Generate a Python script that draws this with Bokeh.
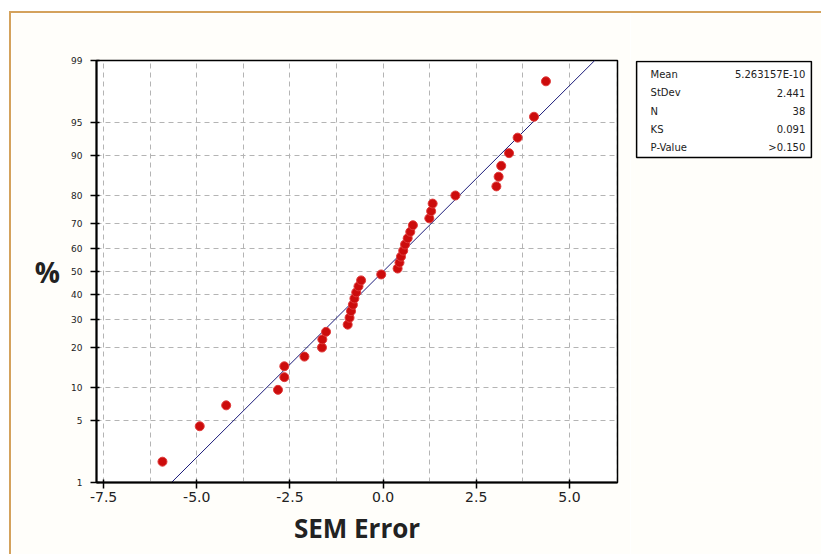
from statistics import NormalDist
from bokeh.plotting import figure
from bokeh.layouts import row
from bokeh.models import FixedTicker, ColumnDataSource, Range1d
from bokeh.core.properties import value
from bokeh.embed import file_html
from bokeh.resources import INLINE

# ---- data ----
residuals = [-5.92, -4.92, -4.21, -2.82, -2.65, -2.65, -2.11, -1.64, -1.63, -1.53,
             -0.95, -0.90, -0.86, -0.81, -0.77, -0.72, -0.66, -0.59, -0.05,
             0.39, 0.44, 0.48, 0.54, 0.59, 0.66, 0.73, 0.80,
             1.24, 1.29, 1.33, 1.94, 3.04, 3.10, 3.17, 3.38, 3.61, 4.05, 4.37]
percent = [1.8, 4.4, 7.0, 9.6, 12.2, 14.8, 17.4, 20.1, 22.7, 25.3,
           27.9, 30.5, 33.1, 35.7, 38.3, 40.9, 43.5, 46.1, 48.7,
           51.3, 53.9, 56.5, 59.1, 61.7, 64.3, 66.9, 69.5,
           72.1, 74.7, 77.3, 79.9, 82.6, 85.2, 87.8, 90.4, 93.0, 95.6, 98.2]
fit_mean = 5.263157e-10
fit_sd = 2.441
y_tick_pct = [1, 5, 10, 20, 30, 40, 50, 60, 70, 80, 90, 95, 99]
x_ticks = [-7.5, -5.0, -2.5, 0.0, 2.5, 5.0]
stat_names = ["Mean", "StDev", "N", "KS", "P-Value"]
stat_values = ["5.263157E-10", "2.441", "38", "0.091", ">0.150"]

nd = NormalDist()
def zq(p):
    return nd.inv_cdf(p / 100.0)

BG = "#fffefa"
TOP, BOTTOM = 47, 72
pts = ColumnDataSource(dict(x=residuals, y=[zq(p) for p in percent]))
line_pct = [y_tick_pct[0], y_tick_pct[-1]]
line_src = ColumnDataSource(dict(x=[fit_mean + fit_sd * zq(p) for p in line_pct],
                                 y=[zq(p) for p in line_pct]))

p = figure(width=619, height=541, output_backend="svg", toolbar_location=None,
           x_range=Range1d(-7.69, 6.29), y_range=Range1d(zq(1), zq(99)),
           min_border_left=85, min_border_right=13, min_border_top=TOP, min_border_bottom=BOTTOM)
p.border_fill_color = BG
p.background_fill_color = "white"
p.outline_line_color = "black"
p.outline_line_width = 1.5

# grids
grid_x = [-7.5 + 1.25 * i for i in range(12)]
p.xgrid.ticker = FixedTicker(ticks=grid_x)
p.ygrid.ticker = FixedTicker(ticks=[zq(v) for v in y_tick_pct[1:-1]])
for g in (p.xgrid, p.ygrid):
    g.grid_line_color = "#b4b4b4"
    g.grid_line_dash = "5 4"
    g.grid_line_width = 1

# axes
p.xaxis.ticker = FixedTicker(ticks=x_ticks)
p.xaxis.major_label_overrides = {t: f"{t:.1f}" for t in x_ticks}
p.yaxis.ticker = FixedTicker(ticks=[zq(v) for v in y_tick_pct])
p.yaxis.major_label_overrides = {zq(v): str(v) for v in y_tick_pct}
for ax in (p.xaxis, p.yaxis):
    ax.axis_line_color = "black"
    ax.axis_line_width = 2
    ax.major_tick_line_color = "black"
    ax.major_tick_line_width = 1.5
    ax.minor_tick_line_color = None
    ax.major_tick_in = 3
    ax.major_tick_out = 6
    ax.major_label_text_font = "DejaVu Sans"
    ax.major_label_text_color = "#222222"
p.xaxis.major_label_text_font_size = "14px"
p.xaxis.major_label_standoff = 3
p.yaxis.major_label_text_font_size = "9px"
p.yaxis.major_label_standoff = 8
p.xaxis.axis_label = "SEM Error"
p.xaxis.axis_label_text_font = "Open Sans"
p.xaxis.axis_label_text_font_style = "bold"
p.xaxis.axis_label_text_font_size = "26px"
p.xaxis.axis_label_text_color = "#222222"
p.xaxis.axis_label_standoff = 5
p.yaxis.axis_label = "%"
p.yaxis.axis_label_orientation = "horizontal"
p.yaxis.axis_label_text_font = "Open Sans"
p.yaxis.axis_label_text_font_style = "bold"
p.yaxis.axis_label_text_font_size = "28px"
p.yaxis.axis_label_text_color = "#222222"
p.yaxis.axis_label_standoff = 8

# fitted line and points
p.line("x", "y", source=line_src, line_color="#1c1c7a", line_width=1)
p.scatter("x", "y", source=pts, size=9, marker="circle",
          fill_color="#cc0c0c", line_color="#e03a3a", line_width=1)

# ---- statistics table as a small second figure (same frame height as p) ----
n_rows = len(stat_names)
tbl = ColumnDataSource(dict(row=list(range(n_rows)), name=stat_names, val=stat_values,
                            xl=[0.08] * n_rows, xr=[0.965] * n_rows))
t = figure(width=191, height=541, output_backend="svg", toolbar_location=None,
           x_range=Range1d(-0.012, 1.012), y_range=Range1d(22.3, -0.765),
           min_border_left=4, min_border_right=8, min_border_top=TOP, min_border_bottom=BOTTOM)
t.axis.visible = False
t.grid.visible = False
t.border_fill_color = BG
t.background_fill_color = BG
t.outline_line_color = None
t.quad(left=[0], right=[1], top=[-0.71], bottom=[n_rows - 0.46],
       fill_color="white", line_color="black", line_width=1.5)
t.text("xl", "row", text="name", source=tbl, text_font=value("DejaVu Sans"),
       text_font_size="10px", text_color="#222222", text_align="left", text_baseline="middle")
t.text("xr", "row", text="val", source=tbl, text_font=value("DejaVu Sans"),
       text_font_size="10px", text_color="#222222", text_align="right", text_baseline="middle")

layout = row(p, t, spacing=0,
             styles={"border-top": "2px solid #d4a25c", "border-left": "2px solid #d4a25c",
                     "margin-left": "9px", "margin-top": "11px"})

open("out.html", "w").write(file_html(layout, INLINE))
